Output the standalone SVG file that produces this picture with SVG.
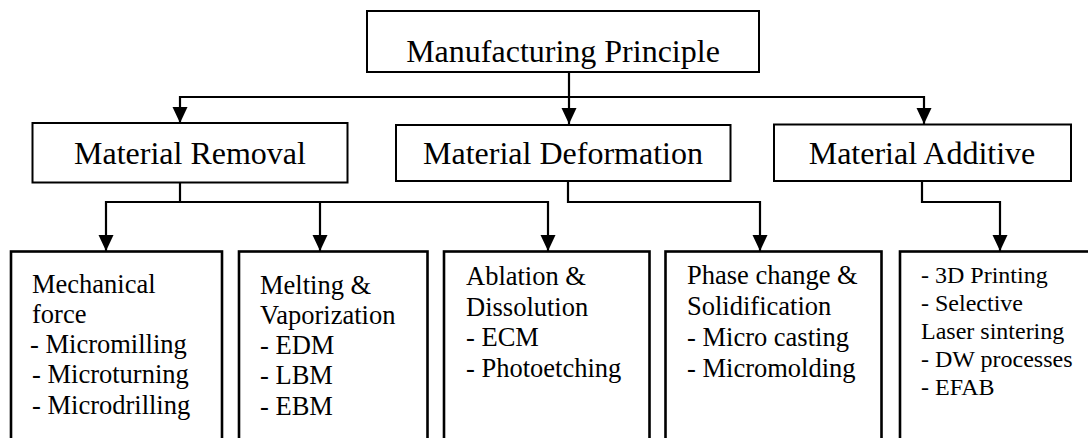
<svg xmlns="http://www.w3.org/2000/svg" width="1088" height="438" viewBox="0 0 1088 438">
  <style>
    .box { fill: #ffffff; stroke: #000000; stroke-width: 2; }
    .leaf { fill: #ffffff; stroke: #000000; stroke-width: 2.6; }
    .lbl { font-family: "Liberation Serif", "Times New Roman", serif; fill: #000000; }
    .big { font-size: 32px; }
    .small { font-size: 26.5px; }
    .tiny { font-size: 24px; }
    .wire { fill: none; stroke: #000000; stroke-width: 2.2; marker-end: url(#arrow); }
    .stem { fill: none; stroke: #000000; stroke-width: 2.2; }
  </style>
  <defs>
    <marker id="arrow" markerUnits="userSpaceOnUse" markerWidth="16" markerHeight="16" viewBox="0 0 16 16" refX="16" refY="8" orient="auto">
      <path d="M0,0.5 L16,8 L0,15.5 z" fill="#000000"/>
    </marker>
  </defs>
  <rect x="0" y="0" width="1088" height="438" fill="#ffffff"/>

  <!-- connectors -->
  <g id="connectors">
    <!-- root to second level -->
    <path class="stem" d="M569,73 V97"/>
    <path class="stem" d="M180,97 H924"/>
    <path class="wire" d="M180,96 V123"/>
    <path class="wire" d="M569,96 V124"/>
    <path class="wire" d="M924,96 V124"/>
    <!-- removal branches -->
    <path class="stem" d="M180,183 V203" stroke-width="3.6"/>
    <path class="stem" d="M106,202 H549"/>
    <path class="wire" d="M106,201 V251"/>
    <path class="wire" d="M320,201 V251"/>
    <path class="wire" d="M548,201 V251"/>
    <!-- deformation branch -->
    <path class="wire" d="M568,181 V202 H760 V251"/>
    <!-- additive branch -->
    <path class="wire" d="M922,181 V202 H1000 V251"/>
  </g>

  <g id="root">
    <rect class="box" x="367" y="11" width="392" height="61"/>
    <text class="lbl big" x="563" y="62" text-anchor="middle">Manufacturing Principle</text>
  </g>

  <g id="removal">
    <rect class="box" x="32.5" y="123" width="315" height="59.5"/>
    <text class="lbl big" x="190" y="164" text-anchor="middle">Material Removal</text>
  </g>
  <g id="deformation">
    <rect class="box" x="396" y="125" width="334.5" height="56"/>
    <text class="lbl big" x="563" y="164" text-anchor="middle">Material Deformation</text>
  </g>
  <g id="additive">
    <rect class="box" x="774" y="124.5" width="297" height="56.5"/>
    <text class="lbl big" x="922" y="164" text-anchor="middle">Material Additive</text>
  </g>

  <g id="mechanical">
    <rect class="leaf" x="11" y="251.5" width="211" height="200"/>
    <text class="lbl small">
      <tspan x="32" y="293">Mechanical</tspan>
      <tspan x="32" y="323">force</tspan>
      <tspan x="30" y="353">- Micromilling</tspan>
      <tspan x="32" y="383">- Microturning</tspan>
      <tspan x="32" y="414">- Microdrilling</tspan>
    </text>
  </g>
  <g id="melting">
    <rect class="leaf" x="239" y="251.5" width="188.5" height="200"/>
    <text class="lbl small">
      <tspan x="260" y="294">Melting &amp;</tspan>
      <tspan x="260" y="324">Vaporization</tspan>
      <tspan x="260" y="354">- EDM</tspan>
      <tspan x="260" y="384">- LBM</tspan>
      <tspan x="260" y="415">- EBM</tspan>
    </text>
  </g>
  <g id="ablation">
    <rect class="leaf" x="444" y="251.5" width="205.5" height="200"/>
    <text class="lbl small">
      <tspan x="466" y="285">Ablation &amp;</tspan>
      <tspan x="466" y="316">Dissolution</tspan>
      <tspan x="466" y="346">- ECM</tspan>
      <tspan x="466" y="377">- Photoetching</tspan>
    </text>
  </g>
  <g id="phase">
    <rect class="leaf" x="665.5" y="251.5" width="216" height="200"/>
    <text class="lbl small">
      <tspan x="687" y="284">Phase change &amp;</tspan>
      <tspan x="687" y="315">Solidification</tspan>
      <tspan x="687" y="346">- Micro casting</tspan>
      <tspan x="687" y="377">- Micromolding</tspan>
    </text>
  </g>
  <g id="additive-methods">
    <rect class="leaf" x="900" y="251.5" width="195" height="200"/>
    <text class="lbl tiny">
      <tspan x="921" y="283">- 3D Printing</tspan>
      <tspan x="921" y="311">- Selective</tspan>
      <tspan x="921" y="339">Laser sintering</tspan>
      <tspan x="921" y="367">- DW processes</tspan>
      <tspan x="921" y="395">- EFAB</tspan>
    </text>
  </g>
</svg>
